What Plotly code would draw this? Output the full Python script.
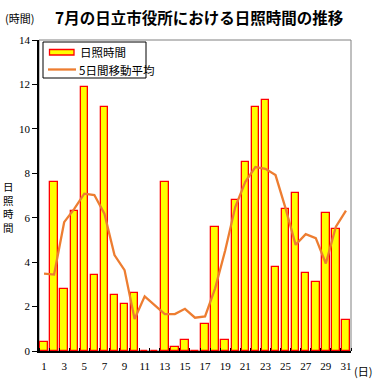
import plotly.graph_objects as go

days = list(range(1, 32))
sunshine = [0.4, 7.6, 2.8, 6.3, 11.9, 3.4, 11.0, 2.5, 2.1, 2.6,
            0.0, 0.0, 7.6, 0.2, 0.5, 0.0, 1.2, 5.6, 0.5, 6.8,
            8.5, 11.0, 11.3, 3.8, 6.4, 7.1, 3.5, 3.1, 6.2, 5.5, 1.4]
moving_avg = [3.48, 3.44, 5.8, 6.4, 7.08, 7.02, 6.18, 4.32, 3.64, 1.44,
              2.46, 2.08, 1.66, 1.66, 1.9, 1.5, 1.56, 2.82, 4.52, 6.48,
              7.62, 8.28, 8.2, 7.92, 6.42, 4.78, 5.26, 5.08, 3.94, 5.6, 6.32]
x_ticks = list(range(1, 32, 2))
y_ticks = list(range(0, 15, 2))

W, H = 388, 389
L, R, T, B = 39, 37, 40, 38
pw, ph = W - L - R, H - T - B

def px(x):
    return (x - L) / pw

def py(y):
    return 1 - (y - T) / ph

jp = "Noto Sans CJK JP"
serif = "Liberation Serif"

fig = go.Figure()
fig.add_trace(go.Bar(
    x=days, y=sunshine, name="日照時間", width=0.74,
    marker=dict(color="#FFFF00", line=dict(color="#FF0000", width=1.3)),
))
fig.add_trace(go.Scatter(
    x=days, y=moving_avg, name="5日間移動平均", mode="lines",
    line=dict(color="#ED7D31", width=2.3),
))

shapes = [
    dict(type="rect", xref="x domain", yref="y domain", x0=0, x1=1, y0=0, y1=1,
         line=dict(color="#808080", width=1), layer="below"),
    # legend box
    dict(type="rect", xref="paper", yref="paper", x0=px(43), x1=px(146), y0=py(42), y1=py(78),
         line=dict(color="black", width=1), fillcolor="white", layer="above"),
    dict(type="rect", xref="paper", yref="paper", x0=px(49.5), x1=px(74), y0=py(49.5), y1=py(55),
         line=dict(color="#FF0000", width=1.3), fillcolor="#FFFF00", layer="above"),
    dict(type="line", xref="paper", yref="paper", x0=px(48), x1=px(76), y0=py(69.5), y1=py(69.5),
         line=dict(color="#ED7D31", width=2.3), layer="above"),
]

annotations = [
    dict(text="<b>7月の日立市役所における日照時間の推移</b>", xref="paper", yref="paper",
         x=px(199), y=py(17), showarrow=False, font=dict(family=jp, size=15.5, color="black"),
         xanchor="center", yanchor="middle"),
    dict(text="(時間)", xref="paper", yref="paper", x=px(3), y=py(18), showarrow=False,
         font=dict(family=jp, size=11, color="black"), xanchor="left", yanchor="middle"),
    dict(text="(日)", xref="paper", yref="paper", x=px(352), y=py(371), showarrow=False,
         font=dict(family=jp, size=11, color="black"), xanchor="left", yanchor="middle"),
    dict(text="日照時間", xref="paper", yref="paper", x=px(78), y=py(52), showarrow=False,
         font=dict(family=jp, size=11.5, color="black"), xanchor="left", yanchor="middle"),
    dict(text="5日間移動平均", xref="paper", yref="paper", x=px(77), y=py(70), showarrow=False,
         font=dict(family=jp, size=11.5, color="black"), xanchor="left", yanchor="middle"),
    dict(text="日<br>照<br>時<br>間", xref="paper", yref="paper", x=px(8), y=py(206.5),
         showarrow=False, font=dict(family=jp, size=10.5, color="black"),
         xanchor="center", yanchor="middle"),
]

fig.update_layout(
    width=W, height=H, margin=dict(l=L, r=R, t=T, b=B),
    paper_bgcolor="white", plot_bgcolor="white", showlegend=False,
    shapes=shapes, annotations=annotations, bargap=0,
    xaxis=dict(range=[0.5, 31.5], tickvals=x_ticks, ticks="", showgrid=False, zeroline=False,
               showline=True, linecolor="black", linewidth=2,
               tickfont=dict(family=serif, size=11, color="black"), ticklabelstandoff=4,
               minor=dict(tick0=0.5, dtick=1, ticks="inside", ticklen=3, tickcolor="black", tickwidth=1)),
    yaxis=dict(range=[0, 14], tickvals=y_ticks, ticks="outside", ticklen=5, tickcolor="black",
               showgrid=False, zeroline=False, showline=True, linecolor="black", linewidth=1.5,
               tickfont=dict(family=serif, size=11, color="black")),
)

fig.write_html("out.html", config={"displayModeBar": False},
               post_script="document.body.style.margin='0';document.body.style.padding='0';")
